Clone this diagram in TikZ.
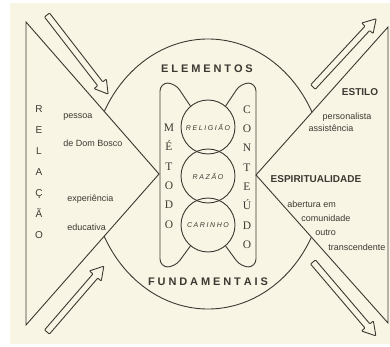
\documentclass[tikz,border=0pt]{standalone}
\usepackage{fontspec}
\setmainfont{Liberation Sans}
\newfontfamily\serifcol{Liberation Serif}
\definecolor{bg}{RGB}{249,245,228}
\definecolor{ink}{RGB}{62,56,50}
\newcommand\spaced[2]{\def\spkern{#1}\sploop#2\relax\kern-#1}
\def\sploop#1{\ifx\relax#1\else#1\kern\spkern\relax\expandafter\sploop\fi}
\newcommand\harrow[4]{%
  \draw[arrowline, shift={(#1,#2)}, rotate=#3]
    (0,-3.2) -- ({#4-13},-3.2) -- ({#4-13},-7.8) -- (#4,0) -- ({#4-13},7.8) -- ({#4-13},3.2) -- (0,3.2) -- cycle;}
\begin{document}
\begin{tikzpicture}[x=1pt,y=-1pt, line width=0.9pt, draw=ink, text=ink,
  arrowline/.style={line width=0.9pt, line join=round, rounded corners=0.8pt},
  title/.style={font=\bfseries\fontsize{11}{13}\selectfont, inner sep=0},
  head/.style={font=\bfseries\fontsize{10}{12}\selectfont, inner sep=0},
  lbl/.style={font=\fontsize{9}{10}\selectfont, inner sep=0},
  ball/.style={circle, draw, minimum size=54pt, inner sep=0, font=\itshape\fontsize{7}{8}\selectfont},
  col/.style={align=center, inner sep=0},
  column/.style={rounded corners=8pt}]
\useasboundingbox (0,0) rectangle (390,347);
\fill[white] (0,0) rectangle (390,347);
\fill[bg] (10,3) rectangle (390,344);
% big ellipse
\draw (208,174) ellipse [x radius=117pt, y radius=135pt];
% two triangles
\filldraw[fill=bg] (26,22) -- (159,174) -- (26,325) -- cycle;
\filldraw[fill=bg] (388,27) -- (256,175) -- (388,323) -- cycle;
% circles
\node[ball] (rel) at (208,127) {\spaced{1.6pt}{RELIGIÃO}};
\node[ball] (raz) at (208,176) {\spaced{1.6pt}{RAZÃO}};
\node[ball] (car) at (208,225) {\spaced{1.6pt}{CARINHO}};
% columns
\draw[column] (rel.130) -- (175,83) -- (160,83) -- (160,267) -- (175,267) -- (car.230);
\draw[column] (rel.50) -- (241,83) -- (256,83) -- (256,267) -- (241,267) -- (car.310);
% titles
\node[title] (elem) at (207,69) {\spaced{2.9pt}{ELEMENTOS}};
\node[title] (fund) at (208,282) {\spaced{2.9pt}{FUNDAMENTAIS}};
% vertical words
\node[col, font=\serifcol\fontsize{11.5}{19.4}\selectfont] (met) at (169,176) {M\\É\\T\\O\\D\\O};
\node[col, font=\serifcol\fontsize{11.5}{19.3}\selectfont] (cont) at (247,177) {C\\O\\N\\T\\E\\Ú\\D\\O};
\node[col, font=\fontsize{10}{21}\selectfont] (relac) at (39,172) {R\\E\\L\\A\\Ç\\Ã\\O};
% left labels
\node[lbl, anchor=west] (pess) at (63,117) {pessoa};
\node[lbl, anchor=west] (ddb) at (63,143) {de Dom Bosco};
\node[lbl, anchor=west] (exp) at (67,199) {experiência};
\node[lbl, anchor=west] (edu) at (67,227) {educativa};
% right labels
\node[head] (est) at (360,92) {ESTILO};
\node[lbl] (pers) at (347,117) {personalista};
\node[lbl] (assi) at (331,128) {assistência};
\node[head] (espi) at (316,179) {ESPIRITUALIDADE};
\node[lbl, anchor=west] (abe) at (287,204) {abertura em};
\node[lbl, anchor=west] (com) at (301,218) {comunidade};
\node[lbl, anchor=west] (out) at (315,233) {outro};
\node[lbl, anchor=west] (tra) at (328,247) {transcendente};
% hollow arrows
\harrow{47}{15}{-52.3}{100}
\harrow{313}{87}{47.2}{93}
\harrow{47}{332}{49.2}{87}
\harrow{313}{262}{-49.6}{97}
\end{tikzpicture}
\end{document}
